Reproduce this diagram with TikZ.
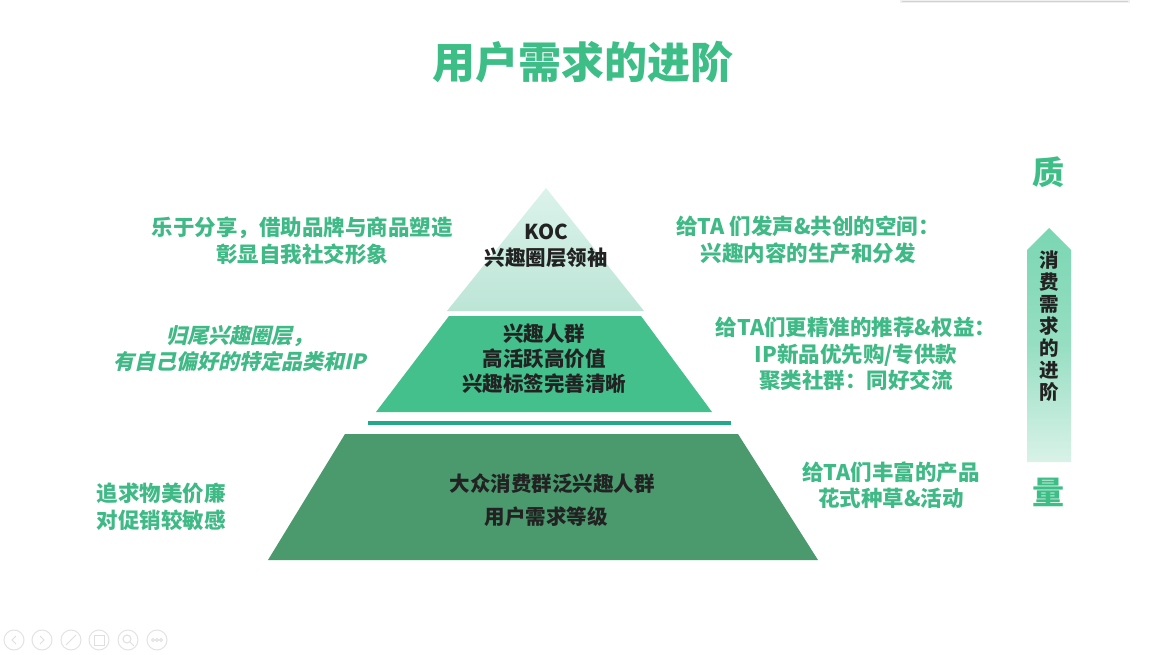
\documentclass[tikz,border=0pt]{standalone}
\usepackage{fontspec}
\setmainfont{Noto Sans CJK SC}
\newfontfamily\slantbold{Noto Sans CJK SC}[FakeSlant=0.22]
\usetikzlibrary{shapes.geometric}
\definecolor{titlegreen}{HTML}{3DBE87}
\definecolor{txtgreen}{HTML}{3FB985}
\definecolor{toptri}{HTML}{CCEEE2}
\definecolor{toptriB}{HTML}{BCE5D6}
\definecolor{midgreen}{HTML}{43C08C}
\definecolor{botgreen}{HTML}{4A9A6E}
\definecolor{bargreen}{HTML}{22A98A}
\definecolor{arrowtop}{HTML}{7AD6B3}
\definecolor{arrowbot}{HTML}{D9F2E8}
\definecolor{darktxt}{HTML}{222222}
\tikzset{
  sidetxt/.style={font=\bfseries\fontsize{21.5}{26.5}\selectfont, text=txtgreen, align=center, inner sep=0pt},
  pyrtxt/.style={font=\bfseries\fontsize{20.5}{25}\selectfont, text=darktxt, align=center, inner sep=0pt},
  icon/.style={draw=gray!22, line width=1pt, circle, minimum size=20pt, inner sep=0pt},
}
\begin{document}
\begin{tikzpicture}[x=1pt,y=-1pt]
\useasboundingbox (0,0) rectangle (1165,655);
\fill[white] (0,0) rectangle (1165,655);
% top-right shadow artifact
\fill[gray!12] (900,0) rectangle (1130,3);
\draw[gray!35, line width=1pt] (902,2) -- (1128,2);

% title
\node[font=\bfseries\fontsize{43}{43}\selectfont, text=titlegreen, inner sep=0pt] (title) at (583,62) {用户需求的进阶};

% pyramid
\coordinate (apex) at (546,188);
\shade[top color=toptri!70!white, bottom color=toptriB] (apex) -- (644,311) -- (447,311) -- cycle;
\fill[midgreen] (449,316) -- (641,316) -- (712,412) -- (376,412) -- cycle;
\fill[bargreen] (368,421) rectangle (731,425);
\fill[botgreen] (345,434) -- (738,434) -- (818,560) -- (268,560) -- cycle;

\node[pyrtxt] (koc) at (546,232) {KOC};
\node[pyrtxt] (koc2) at (546,258) {兴趣圈层领袖};
\node[pyrtxt] (mid) at (544,359) {兴趣人群\\高活跃高价值\\兴趣标签完善清晰};
\node[pyrtxt] (bot1) at (552,484) {大众消费群泛兴趣人群};
\node[pyrtxt] (bot2) at (546,517) {用户需求等级};

% left texts
\node[sidetxt] (l1) at (302,241) {乐于分享，借助品牌与商品塑造\\彰显自我社交形象};
\node[sidetxt, font=\slantbold\bfseries\fontsize{21}{26}\selectfont] (l2) at (240,348) {归尾兴趣圈层，\\有自己偏好的特定品类和IP};
\node[sidetxt] (l3) at (161,507) {追求物美价廉\\对促销较敏感};

% right texts
\node[sidetxt] (r1) at (808,240) {给TA 们发声\&共创的空间：\\兴趣内容的生产和分发};
\node[sidetxt] (r2) at (856,354) {给TA们更精准的推荐\&权益：\\IP新品优先购/专供款\\聚类社群：同好交流};
\node[sidetxt] (r3) at (891,485) {给TA们丰富的产品\\花式种草\&活动};

% quality/quantity arrow
\node[font=\bfseries\fontsize{32}{32}\selectfont, text=titlegreen, inner sep=0pt] (zhi) at (1048,172) {质};
\node[font=\bfseries\fontsize{32}{32}\selectfont, text=titlegreen, inner sep=0pt] (liang) at (1048,492) {量};
\shade[top color=arrowtop, bottom color=arrowbot, middle color=arrowtop!70!arrowbot] (1049,228) -- (1071,250) -- (1071,462) -- (1027,462) -- (1027,250) -- cycle;
\node[font=\bfseries\fontsize{19.5}{22}\selectfont, text=darktxt, align=center, inner sep=0pt] (vert) at (1049,326) {消\\费\\需\\求\\的\\进\\阶};

% bottom-left navigation icons
\foreach \i/\x in {1/14,2/42,3/71,4/99,5/128,6/157}{
  \node[icon] (ic\i) at (\x,640) {};
}
\draw[gray!25, line width=1pt] (16,636) -- (12,640) -- (16,644);
\draw[gray!25, line width=1pt] (40,636) -- (44,640) -- (40,644);
\draw[gray!25, line width=1pt] (66,645) -- (76,635);
\draw[gray!25, line width=1pt] (94,635) rectangle (104,645);
\draw[gray!25, line width=1pt] (127,639) circle (4pt) (130,642) -- (134,646);
\draw[gray!25, line width=0.8pt] (153,640) circle (1.5pt) (157,640) circle (1.5pt) (161,640) circle (1.5pt);
\end{tikzpicture}
\end{document}
